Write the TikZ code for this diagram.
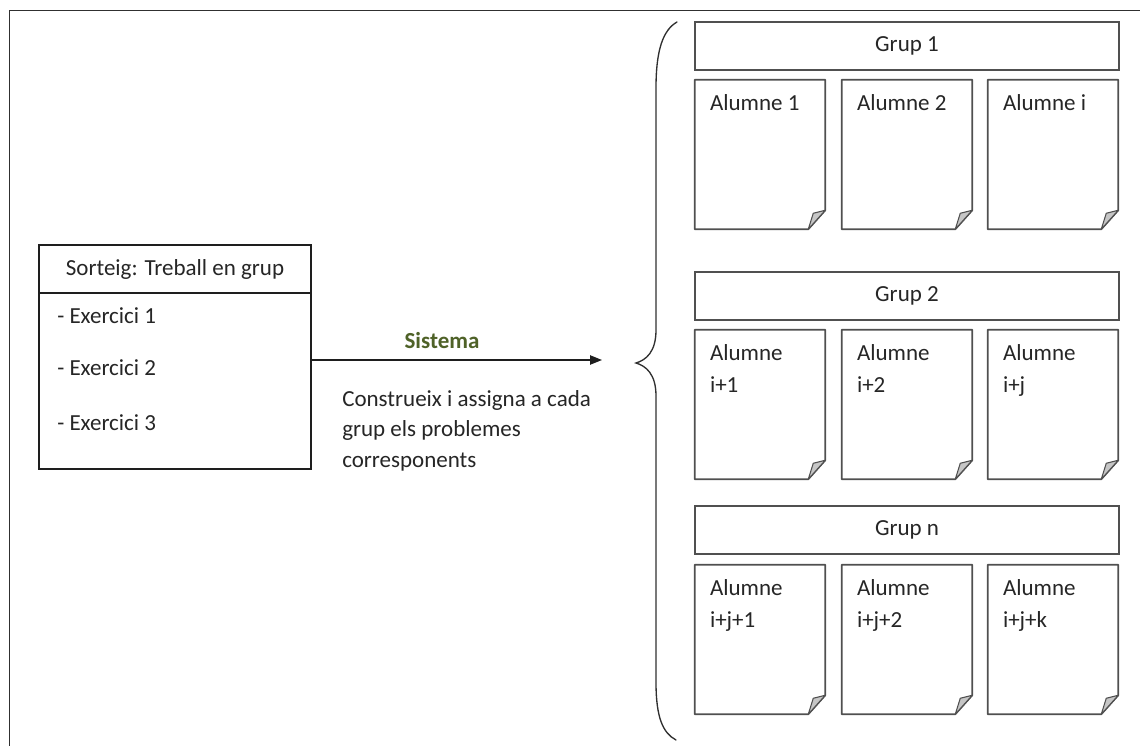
\documentclass[tikz,border=0pt]{standalone}
\usepackage{fontspec}
\setmainfont{Carlito}
\usetikzlibrary{calc,arrows.meta}

\definecolor{frameink}{HTML}{303030}
\definecolor{boxink}{HTML}{1E1E1E}
\definecolor{cardink}{HTML}{505050}
\definecolor{foldfill}{HTML}{C6C6C6}
\definecolor{sysgreen}{HTML}{4F6228}
\definecolor{txt}{HTML}{262626}

\tikzset{
  basefont/.style={font=\fontsize{17.25}{20}\selectfont, text=txt, inner sep=0pt},
  linetext/.style={basefont, anchor=base west},
  grouphead/.style={draw=cardink, line width=1.3pt, minimum width=318pt,
    minimum height=36pt, inner sep=0pt, font=\fontsize{17.25}{20}\selectfont, text=txt},
  cardbase/.style={minimum width=97.5pt, minimum height=111.75pt, inner sep=0pt},
  cardline/.style={draw=cardink, line width=1.3pt, line join=round},
  foldline/.style={draw=cardink, fill=foldfill, line width=0.8pt, line join=round},
  mainbox/.style={draw=boxink, line width=1.1pt, minimum width=204pt,
    minimum height=168pt, inner sep=0pt},
  flow/.style={draw=boxink, line width=1pt, -{Triangle[length=9pt,width=7pt]}},
  brace/.style={draw=frameink, line width=1pt, line cap=round},
}

% A sheet with a curled bottom-right corner and one or two lines of text.
% #1 name, #2 left x, #3 top y, #4 first line, #5 second line
\newcommand\notecard[5]{%
  \node[cardbase] (#1) at (#2+65,#3+74.5) {};
  \draw[cardline] (#1.north west) -- (#1.north east)
    -- ($(#1.south east)+(0,-19)$) -- ($(#1.south east)+(-17,0)$)
    -- (#1.south west) -- cycle;
  \filldraw[foldline] ($(#1.south east)+(-17,0)$)
    .. controls ($(#1.south east)+(-15,-8)$) .. ($(#1.south east)+(-12,-16)$)
    -- ($(#1.south east)+(0,-19)$) -- cycle;
  \node[linetext] (#1-a) at ($(#1.north west)+(15,31)$) {#4};
  \node[linetext] (#1-b) at ($(#1.north west)+(15,63)$) {#5};
}

\begin{document}
\begin{tikzpicture}[x=0.75pt, y=-0.75pt]
  \useasboundingbox (0,0) rectangle (1140,746);
  \fill[white] (0,0) rectangle (1140,746);

  % page frame (top and left edges)
  \draw[frameink, line width=1.4pt] (9.5,746) -- (9.5,10.5) -- (1140,10.5);

  % draw box on the left
  \node[mainbox] (sorteig) at (175,357) {};
  \draw[boxink, line width=1.1pt] (sorteig.west |- 0,293) -- (sorteig.east |- 0,293);
  \node[basefont, anchor=base] (title) at (175,275) {Sorteig: Treball en grup};
  \node[linetext] (ex1) at (57,323) {- Exercici 1};
  \node[linetext] (ex2) at (57,375) {- Exercici 2};
  \node[linetext] (ex3) at (57,430) {- Exercici 3};

  % arrow with its labels
  \coordinate (tip) at (602,360);
  \draw[flow] (sorteig.east |- tip) -- (tip);
  \node[basefont, anchor=base, text=sysgreen, font=\fontsize{17.25}{20}\selectfont\bfseries]
    (sys) at (442,348) {Sistema};
  \node[linetext] (d1) at (342,406) {Construeix i assigna a cada};
  \node[linetext] (d2) at (342,436) {grup els problemes};
  \node[linetext] (d3) at (342,467) {corresponents};

  % curly brace
  \draw[brace] (677,22) .. controls (663,30) and (656,50) .. (656,88)
    -- (656,330) .. controls (656,352) and (646,360) .. (636,363)
    .. controls (646,366) and (656,374) .. (656,396)
    -- (656,682) .. controls (656,718) and (663,733) .. (676,740);

  % groups
  \node[grouphead] (g1) at (907,46) {Grup 1};
  \notecard{c11}{695}{80}{Alumne 1}{}
  \notecard{c12}{842}{80}{Alumne 2}{}
  \notecard{c13}{988}{80}{Alumne i}{}

  \node[grouphead] (g2) at (907,296) {Grup 2};
  \notecard{c21}{695}{330}{Alumne}{i+1}
  \notecard{c22}{842}{330}{Alumne}{i+2}
  \notecard{c23}{988}{330}{Alumne}{i+j}

  \node[grouphead] (gn) at (907,530) {Grup n};
  \notecard{c31}{695}{565}{Alumne}{i+j+1}
  \notecard{c32}{842}{565}{Alumne}{i+j+2}
  \notecard{c33}{988}{565}{Alumne}{i+j+k}
\end{tikzpicture}
\end{document}
